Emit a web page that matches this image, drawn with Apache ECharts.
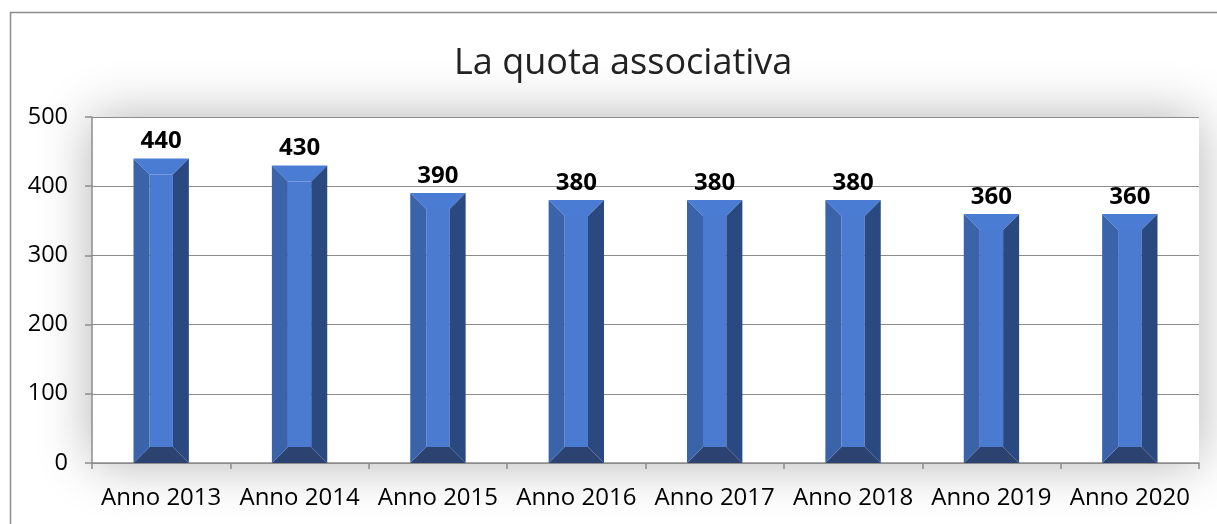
<!DOCTYPE html>
<html>
<head>
<meta charset="utf-8">
<script src="https://cdn.jsdelivr.net/npm/echarts@6/dist/echarts.min.js"></script>
<style>
  html, body { margin: 0; padding: 0; background: #fff; }
  #chart { width: 1217px; height: 524px; }
</style>
</head>
<body>
<div id="chart"></div>
<script>
  var categories = ['Anno 2013', 'Anno 2014', 'Anno 2015', 'Anno 2016', 'Anno 2017', 'Anno 2018', 'Anno 2019', 'Anno 2020'];
  var quota = [440, 430, 390, 380, 380, 380, 360, 360];

  var FONT = '"Open Sans", "Noto Sans", sans-serif';

  var chart = echarts.init(document.getElementById('chart'));

  // bevelled bar, like the office "cool slant" bars
  function renderBevelBar(params, api) {
    var top = api.coord([api.value(0), api.value(1)]);
    var base = api.coord([api.value(0), 0]);
    var bw = api.size([1, 0])[0] * 0.4;
    var x0 = top[0] - bw / 2, x1 = top[0] + bw / 2;
    var y0 = top[1], y1 = base[1];
    var b = 16, bv = 16;
    return {
      type: 'group',
      children: [
        {type: 'rect', shape: {x: x0 + b, y: y0 + bv, width: bw - 2 * b, height: y1 - y0 - 2 * bv}, style: {fill: '#4a7bd0'}},
        {type: 'polygon', shape: {points: [[x0, y0], [x1, y0], [x1 - b, y0 + bv], [x0 + b, y0 + bv]]}, style: {fill: '#4a7cd3'}},
        {type: 'polygon', shape: {points: [[x0, y1], [x1, y1], [x1 - b, y1 - bv], [x0 + b, y1 - bv]]}, style: {fill: '#2c4372'}},
        {type: 'polygon', shape: {points: [[x0, y0], [x0 + b, y0 + bv], [x0 + b, y1 - bv], [x0, y1]]}, style: {fill: '#3a63aa'}},
        {type: 'polygon', shape: {points: [[x1, y0], [x1 - b, y0 + bv], [x1 - b, y1 - bv], [x1, y1]]}, style: {fill: '#2a4980'}},
        {type: 'text', style: {x: top[0], y: y0 - 5, text: String(api.value(1)), textAlign: 'center', textVerticalAlign: 'bottom',
          fill: '#000', font: 'bold 24px ' + FONT}}
      ]
    };
  }

  var option = {
    backgroundColor: '#fff',
    animation: false,
    title: {
      text: 'La quota associativa',
      left: 449,
      top: 41,
      textStyle: {fontFamily: FONT, fontSize: 36, fontWeight: 'normal', color: '#222'}
    },
    graphic: [{
      type: 'rect', z: -10, silent: true,
      shape: {x: 10.5, y: 12.5, width: 1240, height: 540},
      style: {fill: 'none', stroke: '#8c8c8c', lineWidth: 1.5}
    }],
    grid: {
      left: 92, right: 18, top: 117, bottom: 61,
      show: true, backgroundColor: '#fff', borderWidth: 0,
      shadowBlur: 50, shadowColor: 'rgba(0,0,0,0.3)'
    },
    xAxis: {
      type: 'category',
      data: categories,
      boundaryGap: true,
      axisLine: {lineStyle: {color: '#8c8c8c', width: 1.5}},
      axisTick: {show: true, length: 6, lineStyle: {color: '#8c8c8c', width: 1.5}},
      axisLabel: {margin: 23, color: '#000', fontFamily: FONT, fontSize: 24, interval: 0}
    },
    yAxis: {
      type: 'value',
      min: 0, max: 500, interval: 100,
      axisLine: {show: true, lineStyle: {color: '#8c8c8c', width: 1.5}},
      axisTick: {show: true, length: 7, lineStyle: {color: '#8c8c8c', width: 1.5}},
      axisLabel: {margin: 24, color: '#000', fontFamily: FONT, fontSize: 23.5},
      splitLine: {lineStyle: {color: '#8c8c8c', width: 1.2}}
    },
    series: [{
      type: 'custom',
      renderItem: renderBevelBar,
      encode: {x: 0, y: 1},
      data: categories.map(function (c, i) { return [i, quota[i]]; })
    }]
  };

  chart.setOption(option);
</script>
</body>
</html>
